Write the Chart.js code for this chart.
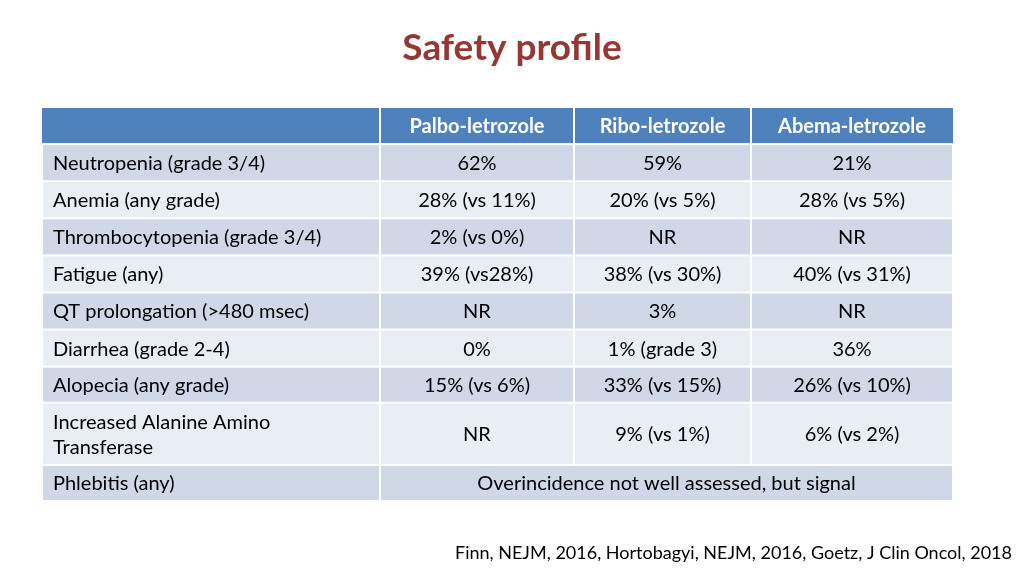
<!DOCTYPE html>
<html><head><meta charset="utf-8">
<script src="https://cdn.jsdelivr.net/npm/chart.js@4"></script>
<style>html,body{margin:0;padding:0;background:#fff;}#wrap{width:1024px;height:576px;}</style>
</head><body><div id="wrap"><canvas id="c" width="1024" height="576"></canvas></div>
<script>
// ---- data ----
const chartTitle = 'Safety profile';
const sourceNote = 'Finn, NEJM, 2016, Hortobagyi, NEJM, 2016, Goetz, J Clin Oncol, 2018';
const columnHeaders = ['', 'Palbo-letrozole', 'Ribo-letrozole', 'Abema-letrozole'];
const adverseEvents = ['Neutropenia (grade 3/4)', 'Anemia (any grade)', 'Thrombocytopenia (grade 3/4)', 'Fatigue (any)', 'QT prolongation (>480 msec)', 'Diarrhea (grade 2-4)', 'Alopecia (any grade)', 'Increased Alanine Amino\nTransferase', 'Phlebitis (any)'];
const palboLetrozole = ['62%', '28% (vs 11%)', '2% (vs 0%)', '39% (vs28%)', 'NR', '0%', '15% (vs 6%)', 'NR', null];
const riboLetrozole = ['59%', '20% (vs 5%)', 'NR', '38% (vs 30%)', '3%', '1% (grade 3)', '33% (vs 15%)', '9% (vs 1%)', null];
const abemaLetrozole = ['21%', '28% (vs 5%)', 'NR', '40% (vs 31%)', 'NR', '36%', '26% (vs 10%)', '6% (vs 2%)', null];
const mergedRowText = [null, null, null, null, null, null, null, null, 'Overincidence not well assessed, but signal'];

// ---- layout (table units) ----
const colEdges = [0, 338, 532, 709, 911];
const headerHeight = 36;
const rowHeights = [37, 37, 37, 37, 37, 37, 36, 62, 36];
const totalHeight = headerHeight + rowHeights.reduce((a, b) => a + b, 0);
const FONT = 'Lato, "Open Sans", sans-serif';
const headerColor = '#4F81BD', darkRow = '#D0D8E8', lightRow = '#E9EDF4';

const tablePlugin = {
  id: 'tablePlugin',
  afterDatasetsDraw(chart) {
    const ctx = chart.ctx, xs = chart.scales.x, ys = chart.scales.y;
    const X = v => xs.getPixelForValue(v), Y = v => ys.getPixelForValue(v);
    const gap = 1;
    function cell(x0, x1, y0, y1, fill) {
      ctx.fillStyle = fill;
      ctx.fillRect(X(x0) + gap, Y(y0) + gap, X(x1) - X(x0) - 2 * gap, Y(y1) - Y(y0) - 2 * gap);
    }
    ctx.save();
    // header
    ctx.fillStyle = headerColor;
    ctx.fillRect(X(0), Y(0), X(colEdges[4]) - X(0), Y(headerHeight) - Y(0) - gap);
    ctx.fillStyle = '#ffffff';
    for (let c = 1; c < colEdges.length - 1; c++) ctx.fillRect(X(colEdges[c]) - 1, Y(0), 2, Y(headerHeight) - Y(0));
    ctx.font = 'bold 20px ' + FONT;
    ctx.textAlign = 'center'; ctx.textBaseline = 'middle';
    for (let c = 1; c < columnHeaders.length; c++) {
      ctx.fillText(columnHeaders[c], (X(colEdges[c]) + X(colEdges[c + 1])) / 2, (Y(0) + Y(headerHeight)) / 2 + 1);
    }
    // body
    let y0 = headerHeight;
    const cols = [palboLetrozole, riboLetrozole, abemaLetrozole];
    adverseEvents.forEach((label, r) => {
      const y1 = y0 + rowHeights[r];
      const fill = r % 2 === 0 ? darkRow : lightRow;
      const cy = (Y(y0) + Y(y1)) / 2 + 1;
      cell(colEdges[0], colEdges[1], y0, y1, fill);
      ctx.fillStyle = '#000000';
      ctx.font = '20px ' + FONT;
      ctx.textAlign = 'left';
      const lines = label.split('\n');
      const lh = 25;
      lines.forEach((ln, i) => ctx.fillText(ln, X(0) + 11, cy + (i - (lines.length - 1) / 2) * lh));
      if (mergedRowText[r]) {
        cell(colEdges[1], colEdges[4], y0, y1, fill);
        ctx.fillStyle = '#000000'; ctx.textAlign = 'center';
        ctx.fillText(mergedRowText[r], (X(colEdges[1]) + X(colEdges[4])) / 2, cy);
      } else {
        cols.forEach((arr, c) => {
          cell(colEdges[c + 1], colEdges[c + 2], y0, y1, fill);
          ctx.fillStyle = '#000000'; ctx.textAlign = 'center';
          ctx.fillText(arr[r], (X(colEdges[c + 1]) + X(colEdges[c + 2])) / 2, cy);
        });
      }
      y0 = y1;
    });
    // title and source
    ctx.fillStyle = '#953735';
    ctx.font = 'bold 37px ' + FONT;
    ctx.textAlign = 'center';
    ctx.fillText(chartTitle, chart.width / 2, 48);
    ctx.fillStyle = '#000000';
    ctx.font = '18px ' + FONT;
    ctx.textAlign = 'right';
    ctx.fillText(sourceNote, 1012, 553);
    ctx.restore();
  }
};

function build() {
  new Chart(document.getElementById('c'), {
    type: 'scatter',
    data: { datasets: [{ data: [] }] },
    options: {
      responsive: false, animation: false, devicePixelRatio: 1,
      layout: { padding: { left: 42, right: 71, top: 108, bottom: 75 } },
      plugins: { legend: { display: false }, tooltip: { enabled: false }, title: { display: false } },
      scales: {
        x: { type: 'linear', min: 0, max: colEdges[colEdges.length - 1], display: false },
        y: { type: 'linear', min: 0, max: totalHeight, reverse: true, display: false }
      }
    },
    plugins: [tablePlugin]
  });
}
if (document.fonts && document.fonts.load) {
  Promise.all([document.fonts.load('20px Lato'), document.fonts.load('bold 20px Lato')]).then(build, build);
} else build();
</script></body></html>
